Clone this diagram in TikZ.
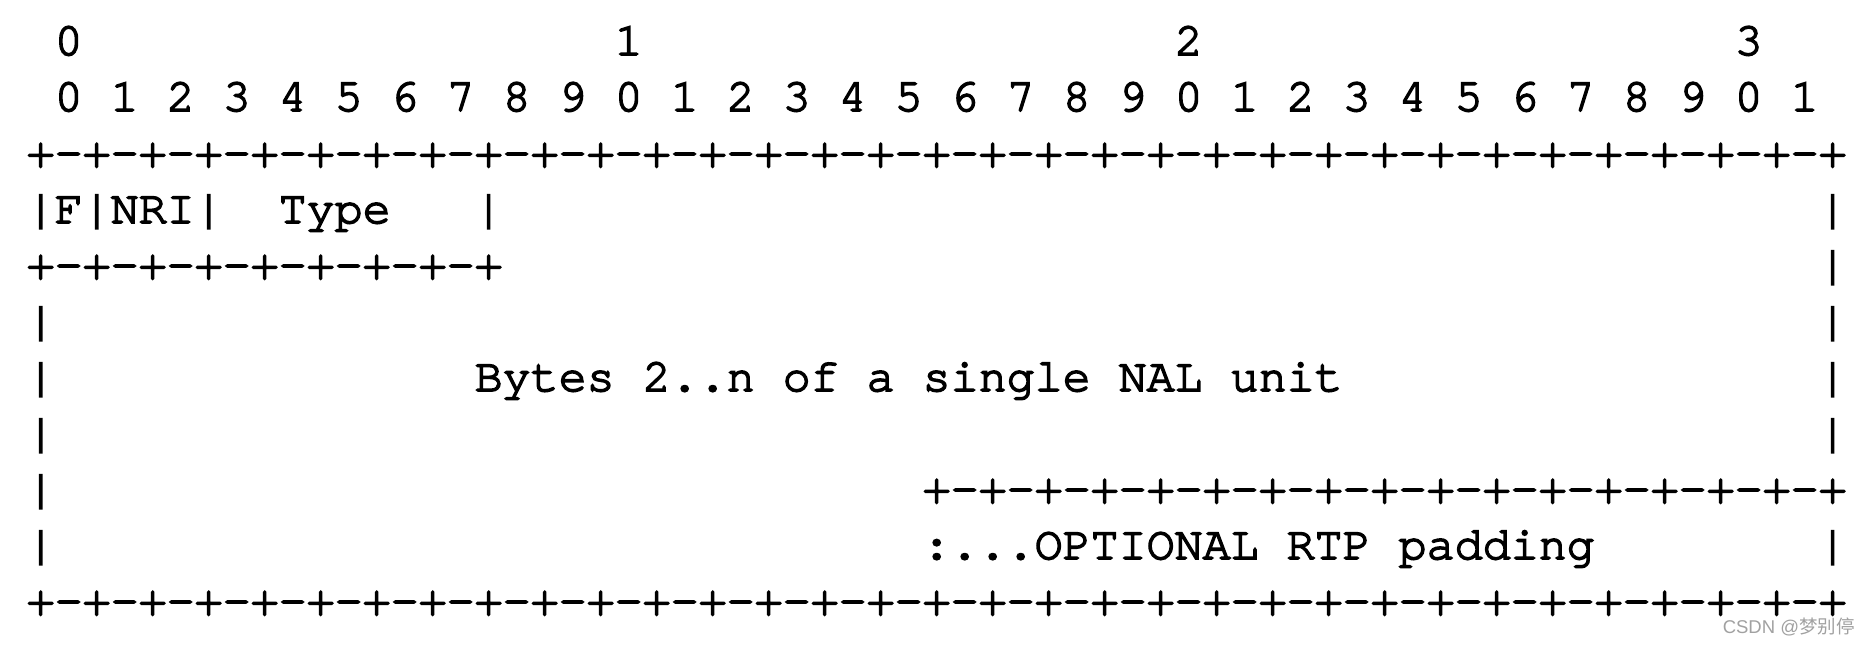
\documentclass[tikz,border=0pt]{standalone}
\usepackage{fontspec}
\newfontfamily\asciifont[FakeBold=3.5]{TeX Gyre Cursor}
\newfontfamily\cjkfont{Noto Sans CJK SC}
\newfontfamily\wmfont{Liberation Sans}
\newcommand\gap[1]{\hspace*{\dimexpr14pt*#1\relax}}
\newcommand\dashrow[1]{\foreach \k in {1,...,#1}{+-}+}
\tikzset{
  row/.style={anchor=base west, inner sep=0pt, outer sep=0pt,
    font=\asciifont\fontsize{23.333pt}{28pt}\selectfont, text=black},
  wmark/.style={anchor=base east, inner sep=0pt, font=\wmfont\fontsize{9.25pt}{11pt}\selectfont, text=black!37}
}
\begin{document}
\begin{tikzpicture}[x=0.5pt,y=-0.5pt]
\useasboundingbox[fill=white] (0,0) rectangle (1870,646);
\node[row] (r1) at (26.7,55) {\gap{1}0\gap{19}1\gap{19}2\gap{19}3};
\node[row] (r2) at (26.7,111) {\gap{1}0\gap{1}1\gap{1}2\gap{1}3\gap{1}4\gap{1}5\gap{1}6\gap{1}7\gap{1}8\gap{1}9\gap{1}0\gap{1}1\gap{1}2\gap{1}3\gap{1}4\gap{1}5\gap{1}6\gap{1}7\gap{1}8\gap{1}9\gap{1}0\gap{1}1\gap{1}2\gap{1}3\gap{1}4\gap{1}5\gap{1}6\gap{1}7\gap{1}8\gap{1}9\gap{1}0\gap{1}1};
\node[row] (r3) at (26.7,167) {\dashrow{32}};
\node[row] (r4) at (26.7,223) {|F|NRI|\gap{2}Type\gap{3}|\gap{47}|};
\node[row] (r5) at (26.7,279) {\dashrow{8}\gap{47}|};
\node[row] (r6) at (26.7,335) {|\gap{63}|};
\node[row] (r7) at (26.7,391) {|\gap{15}Bytes\gap{1}2..n\gap{1}of\gap{1}a\gap{1}single\gap{1}NAL\gap{1}unit\gap{17}|};
\node[row] (r8) at (26.7,447) {|\gap{63}|};
\node[row] (r9) at (26.7,503) {|\gap{31}\dashrow{16}};
\node[row] (r10) at (26.7,559) {|\gap{31}:...OPTIONAL\gap{1}RTP\gap{1}padding\gap{8}|};
\node[row] (r11) at (26.7,615) {\dashrow{32}};
\node[wmark] (wm) at (1855,633) {CSDN @{\cjkfont 梦别停}};
\end{tikzpicture}
\end{document}
